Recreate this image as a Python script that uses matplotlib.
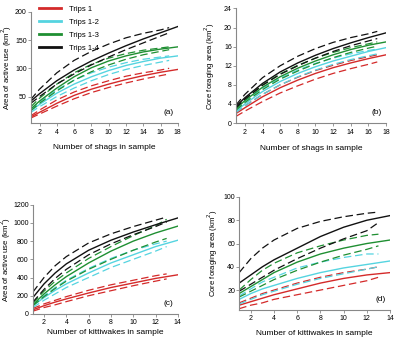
import matplotlib
matplotlib.use('Agg')
import matplotlib.pyplot as plt

plt.rcParams['font.family'] = ['Liberation Sans', 'DejaVu Sans']

# Datos
labels = ['Trips 1', 'Trips 1-2', 'Trips 1-3', 'Trips 1-4']
colores = ['#d42a2a', '#55d4e0', '#1f8f32', '#111111']

# (a) shags - area of active use
x_sh = [1, 2, 4, 6, 8, 10, 12, 14, 16, 18]
x_sh_d = [1, 2, 4, 6, 8, 10, 12, 14, 16, 17]
a_sol = [
    [14, 22, 38, 52, 63, 72, 80, 87, 93, 98],
    [25, 36, 56, 72, 85, 96, 105, 112, 118, 122],
    [28, 42, 65, 85, 101, 113, 122, 129, 134, 138],
    [42, 55, 78, 97, 113, 127, 140, 152, 163, 174],
]
a_up = [
    [16, 26, 44, 58, 69, 78, 86, 92, 97, 100],
    [28, 40, 62, 79, 92, 102, 110, 116, 120, 122],
    [32, 47, 72, 92, 107, 118, 126, 132, 136, 138],
    [45, 63, 92, 114, 130, 143, 154, 162, 168, 172],
]
a_lo = [
    [12, 19, 33, 46, 57, 66, 74, 81, 87, 90],
    [22, 32, 50, 65, 78, 89, 98, 105, 111, 114],
    [25, 38, 60, 79, 94, 106, 116, 124, 130, 133],
    [38, 50, 72, 90, 106, 120, 133, 145, 157, 163],
]

# (b) shags - core foraging area
b_sol = [
    [2.0, 3.2, 5.5, 7.4, 9.0, 10.4, 11.6, 12.6, 13.5, 14.3],
    [2.5, 4.0, 6.6, 8.7, 10.4, 11.8, 13.0, 14.0, 15.0, 15.8],
    [3.0, 4.7, 7.5, 9.7, 11.5, 13.0, 14.3, 15.4, 16.3, 17.0],
    [3.5, 5.3, 8.3, 10.7, 12.6, 14.2, 15.6, 16.8, 17.9, 18.9],
]
b_up = [
    [2.2, 3.6, 6.0, 8.0, 9.6, 11.0, 12.1, 13.1, 13.9, 14.3],
    [2.8, 4.5, 7.3, 9.4, 11.1, 12.5, 13.6, 14.5, 15.2, 15.5],
    [3.2, 5.0, 8.0, 10.3, 12.1, 13.6, 14.8, 15.8, 16.6, 17.0],
    [3.8, 6.0, 9.5, 12.0, 14.0, 15.6, 16.9, 17.9, 18.7, 19.2],
]
b_lo = [
    [1.4, 2.5, 4.5, 6.3, 7.8, 9.2, 10.4, 11.4, 12.3, 12.8],
    [2.2, 3.6, 6.0, 8.0, 9.7, 11.1, 12.3, 13.3, 14.1, 14.5],
    [2.7, 4.3, 7.0, 9.2, 10.9, 12.4, 13.7, 14.8, 15.7, 16.1],
    [3.2, 5.0, 7.9, 10.2, 12.0, 13.6, 15.0, 16.2, 17.2, 17.7],
]

# (c) kittiwakes - area of active use
x_kw = [1, 2, 3, 4, 6, 8, 10, 12, 14]
x_kw_d = [1, 2, 3, 4, 6, 8, 10, 12, 13]
c_sol = [
    [45, 90, 130, 165, 230, 290, 340, 390, 430],
    [90, 180, 260, 330, 450, 560, 650, 740, 810],
    [100, 220, 320, 410, 560, 690, 800, 890, 965],
    [180, 330, 450, 550, 700, 810, 900, 980, 1055],
]
c_up = [
    [60, 110, 150, 190, 260, 320, 370, 420, 440],
    [100, 200, 290, 370, 500, 610, 700, 770, 800],
    [120, 250, 360, 450, 610, 740, 860, 970, 1040],
    [240, 400, 530, 630, 780, 880, 960, 1030, 1065],
]
c_lo = [
    [30, 70, 100, 135, 200, 255, 310, 360, 385],
    [70, 150, 220, 290, 400, 510, 600, 690, 740],
    [90, 190, 280, 360, 490, 600, 700, 790, 830],
    [130, 270, 390, 490, 650, 770, 870, 960, 1010],
]

# (d) kittiwakes - core foraging area
d_sol = [
    [7, 10, 13, 16, 21, 26, 30, 33, 35],
    [12, 17, 21, 24, 30, 35, 39, 42, 45],
    [17, 23, 29, 35, 44, 51, 56, 60, 63],
    [26, 33, 40, 46, 56, 66, 74, 80, 84],
]
d_up = [
    [9, 13, 17, 20, 26, 31, 35, 38, 40],
    [15, 21, 27, 31, 39, 44, 48, 51, 51],
    [20, 29, 37, 43, 52, 58, 63, 67, 68],
    [35, 47, 56, 63, 73, 79, 83, 86, 87],
]
d_lo = [
    [4, 7, 9, 12, 16, 20, 24, 28, 31],
    [8, 12, 16, 19, 25, 30, 34, 38, 40],
    [14, 19, 24, 29, 37, 44, 50, 55, 58],
    [19, 25, 31, 37, 47, 56, 64, 71, 78],
]

fig = plt.figure(figsize=(3.96, 3.39), dpi=100)

paneles = [
    # rect, x, xd, sol, up, lo, xlim, ylim, yticks, xticks, xlabel, ylabel, letra, pos etiquetas
    ([0.078, 0.637, 0.371, 0.328], x_sh, x_sh_d, a_sol, a_up, a_lo, (1, 18), (3, 200),
     [50, 100, 150, 200], range(2, 19, 2), 'Number of shags in sample', 'Area of active use (km$^2$)', '(a)',
     (-0.118, -0.19)),
    ([0.596, 0.637, 0.379, 0.338], x_sh, x_sh_d, b_sol, b_up, b_lo, (1, 18), (0, 24),
     range(0, 25, 4), range(2, 19, 2), 'Number of shags in sample', 'Core foraging area (km$^2$)', '(b)',
     (-0.125, -0.19)),
    ([0.083, 0.074, 0.366, 0.322], x_kw, x_kw_d, c_sol, c_up, c_lo, (1, 14), (0, 1200),
     range(0, 1201, 200), range(2, 15, 2), 'Number of kittiwakes in sample', 'Area of active use (km$^2$)', '(c)',
     (-0.138, -0.14)),
    ([0.604, 0.086, 0.381, 0.333], x_kw, x_kw_d, d_sol, d_up, d_lo, (1, 14), (3, 100),
     range(20, 101, 20), range(2, 15, 2), 'Number of kittiwakes in sample', 'Core foraging area (km$^2$)', '(d)',
     (-0.125, -0.175)),
]

axes = []
for rect, x, xd, sol, up, lo, xl, yl, yt, xt, xlab, ylab, letra, pos in paneles:
    ax = fig.add_axes(rect)
    for i in range(4):
        ax.plot(x, sol[i], color=colores[i], lw=1.0, label=labels[i])
        ax.plot(xd, up[i], color=colores[i], lw=0.9, ls=(0, (6, 3)))
        ax.plot(xd, lo[i], color=colores[i], lw=0.9, ls=(0, (6, 3)))
    ax.set_xlim(*xl)
    ax.set_ylim(*yl)
    ax.set_yticks(list(yt))
    ax.set_xticks(list(xt))
    ax.spines['top'].set_visible(False)
    ax.spines['right'].set_visible(False)
    for s in ['left', 'bottom']:
        ax.spines[s].set_color('#888888')
        ax.spines[s].set_linewidth(0.8)
    ax.tick_params(labelsize=5, length=2, width=0.6, color='#888888', pad=2)
    ax.tick_params(axis='y', pad=1)
    ax.set_xlabel(xlab, fontsize=6)
    ax.set_ylabel(ylab, fontsize=5.6)
    ax.yaxis.set_label_coords(pos[0], 0.5)
    ax.xaxis.set_label_coords(0.5, pos[1])
    ax.text(0.97, 0.06, letra, transform=ax.transAxes, ha='right', va='bottom', fontsize=6)
    axes.append(ax)

# Leyenda arriba a la izquierda del panel (a)
leg = fig.legend([plt.Line2D([], [], color=c, lw=2) for c in colores], labels,
                 loc='upper left', bbox_to_anchor=(0.08, 1.005), frameon=False,
                 fontsize=5.5, handlelength=3.0, handletextpad=1.0, labelspacing=0.75)

fig.savefig('out.png', dpi=100)
